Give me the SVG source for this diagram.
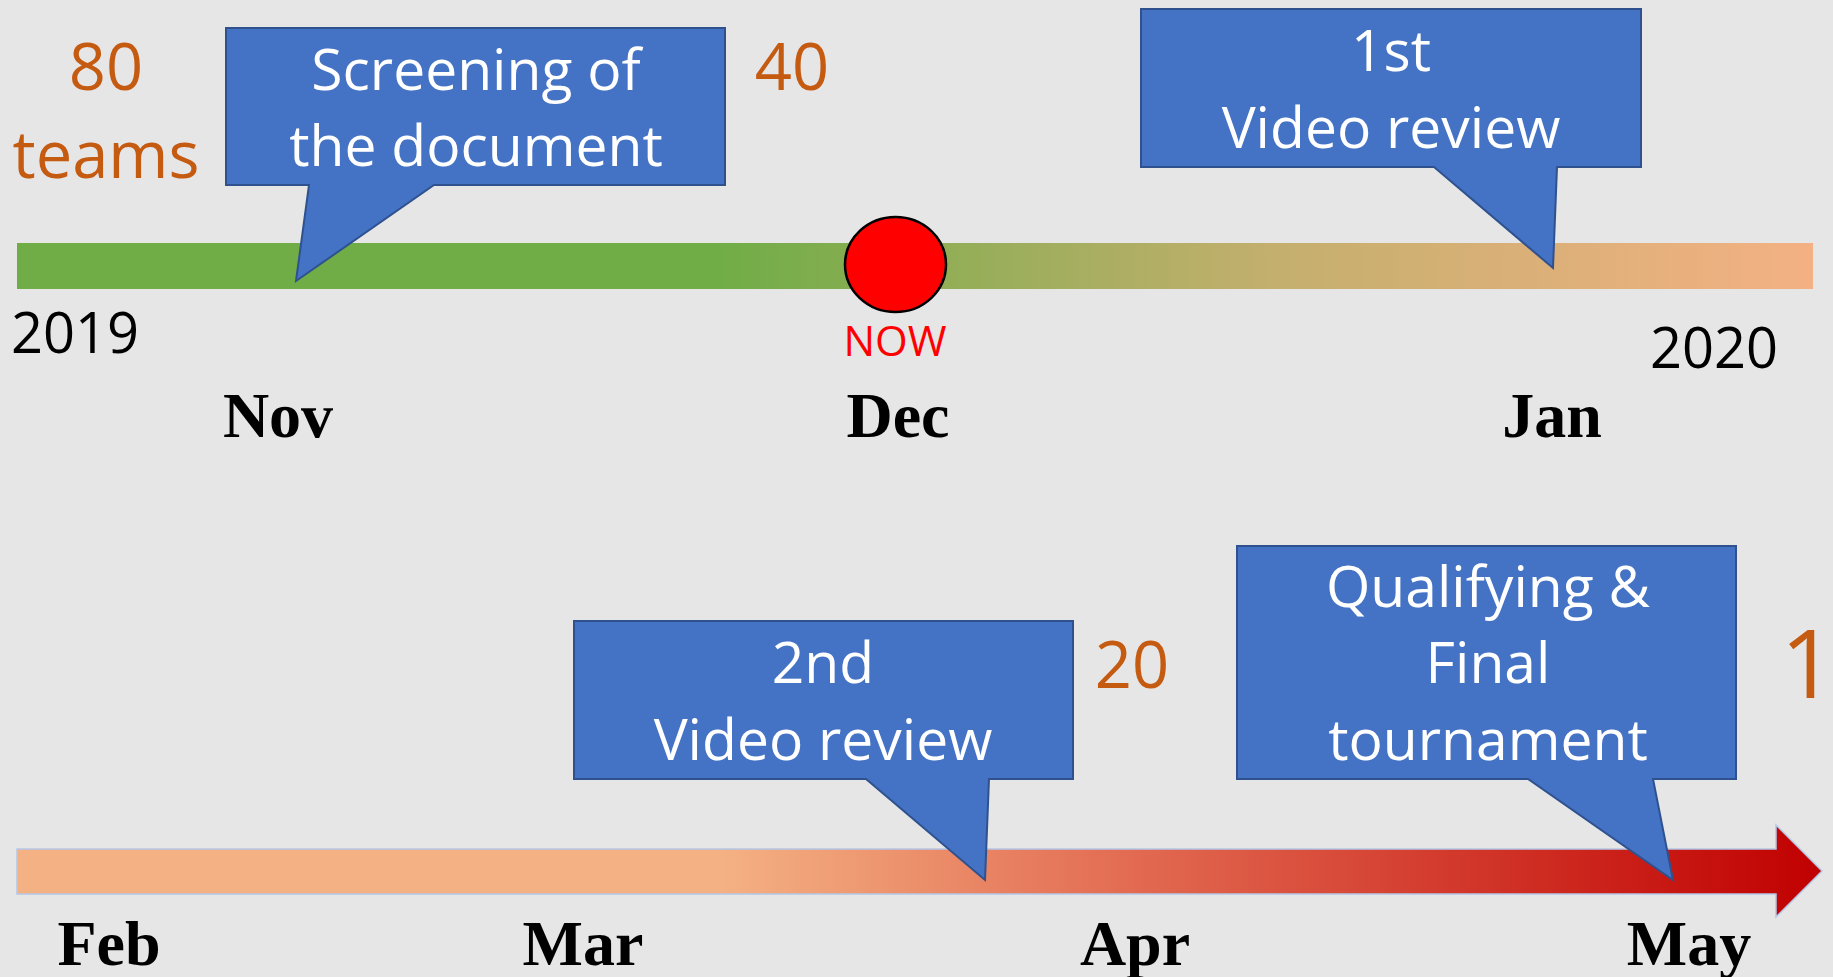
<svg xmlns="http://www.w3.org/2000/svg" width="1833" height="977" viewBox="0 0 1833 977">
  <defs>
    <linearGradient id="gTop" gradientUnits="userSpaceOnUse" x1="17" y1="0" x2="1813" y2="0">
      <stop offset="0" stop-color="#70AD47"/>
      <stop offset="0.39" stop-color="#70AD47"/>
      <stop offset="0.7" stop-color="#C4AF6E"/>
      <stop offset="1" stop-color="#F4B183"/>
    </linearGradient>
    <linearGradient id="gBot" gradientUnits="userSpaceOnUse" x1="17" y1="0" x2="1822" y2="0">
      <stop offset="0" stop-color="#F4B183"/>
      <stop offset="0.39" stop-color="#F4B183"/>
      <stop offset="0.62" stop-color="#E26A51"/>
      <stop offset="1" stop-color="#C00000"/>
    </linearGradient>
    <style>
      .callout { fill: #4472C4; stroke: #2F528F; stroke-width: 2; stroke-linejoin: miter; }
      .ctext { font-family: "Open Sans", "Noto Sans", "Liberation Sans", sans-serif; font-size: 57px; fill: #FFFFFF; text-anchor: middle; }
      .count { font-family: "Open Sans", "Noto Sans", "Liberation Sans", sans-serif; font-size: 65px; fill: #C55A11; text-anchor: middle; }
      .big { font-size: 96px; }
      .year { font-family: "Open Sans", "Noto Sans", "Liberation Sans", sans-serif; font-size: 56px; fill: #000000; text-anchor: middle; }
      .month { font-family: "Liberation Serif", "Times New Roman", serif; font-weight: bold; font-size: 64px; fill: #000000; text-anchor: middle; }
    </style>
  </defs>

  <rect x="0" y="0" width="1833" height="977" fill="#E6E6E7"/>

  <g id="connectors">
    <rect id="timeline-top" x="17" y="243" width="1796" height="46" fill="url(#gTop)"/>
    <path id="timeline-bottom" d="M17,849 H1776 V825 L1822,871 L1776,917 V894 H17 Z" fill="url(#gBot)" stroke="#B4C7E7" stroke-width="1.5"/>
  </g>

  <g id="now-marker">
    <ellipse cx="895.5" cy="264.5" rx="50.5" ry="47.5" fill="#FF0000" stroke="#000000" stroke-width="2.5"/>
    <text x="895" y="356" font-family="'Open Sans', 'Noto Sans', sans-serif" font-size="42" fill="#FF0000" text-anchor="middle">NOW</text>
  </g>

  <g id="callout-screening">
    <path class="callout" d="M226,28 H725 V185 H434 L296,281 L309,185 H226 Z"/>
    <text class="ctext" x="476" y="90">Screening of</text>
    <text class="ctext" x="476" y="166">the document</text>
  </g>

  <g id="callout-video1">
    <path class="callout" d="M1141,9 H1641 V167 H1557 L1553,268 L1434,167 H1141 Z"/>
    <text class="ctext" x="1391" y="71">1st</text>
    <text class="ctext" x="1391" y="148">Video review</text>
  </g>

  <g id="callout-video2">
    <path class="callout" d="M574,621 H1073 V779 H989 L985,880 L866,779 H574 Z"/>
    <text class="ctext" x="823" y="683">2nd</text>
    <text class="ctext" x="823" y="760">Video review</text>
  </g>

  <g id="callout-final">
    <path class="callout" d="M1237,546 H1736 V779 H1653 L1673,880 L1528,779 H1237 Z"/>
    <text class="ctext" x="1488" y="607">Qualifying &amp;</text>
    <text class="ctext" x="1488" y="683">Final</text>
    <text class="ctext" x="1488" y="760">tournament</text>
  </g>

  <g id="counts">
    <text class="count" x="106" y="90">80</text>
    <text class="count" x="106" y="178">teams</text>
    <text class="count" x="792" y="90">40</text>
    <text class="count" x="1132" y="688">20</text>
    <text class="count big" x="1808" y="698">1</text>
  </g>

  <g id="years">
    <text class="year" x="75" y="353">2019</text>
    <text class="year" x="1714" y="368">2020</text>
  </g>

  <g id="months">
    <text class="month" x="278" y="437">Nov</text>
    <text class="month" x="898" y="437">Dec</text>
    <text class="month" x="1552" y="437">Jan</text>
    <text class="month" x="109" y="965">Feb</text>
    <text class="month" x="583" y="965">Mar</text>
    <text class="month" x="1135" y="965">Apr</text>
    <text class="month" x="1689" y="965">May</text>
  </g>
</svg>
